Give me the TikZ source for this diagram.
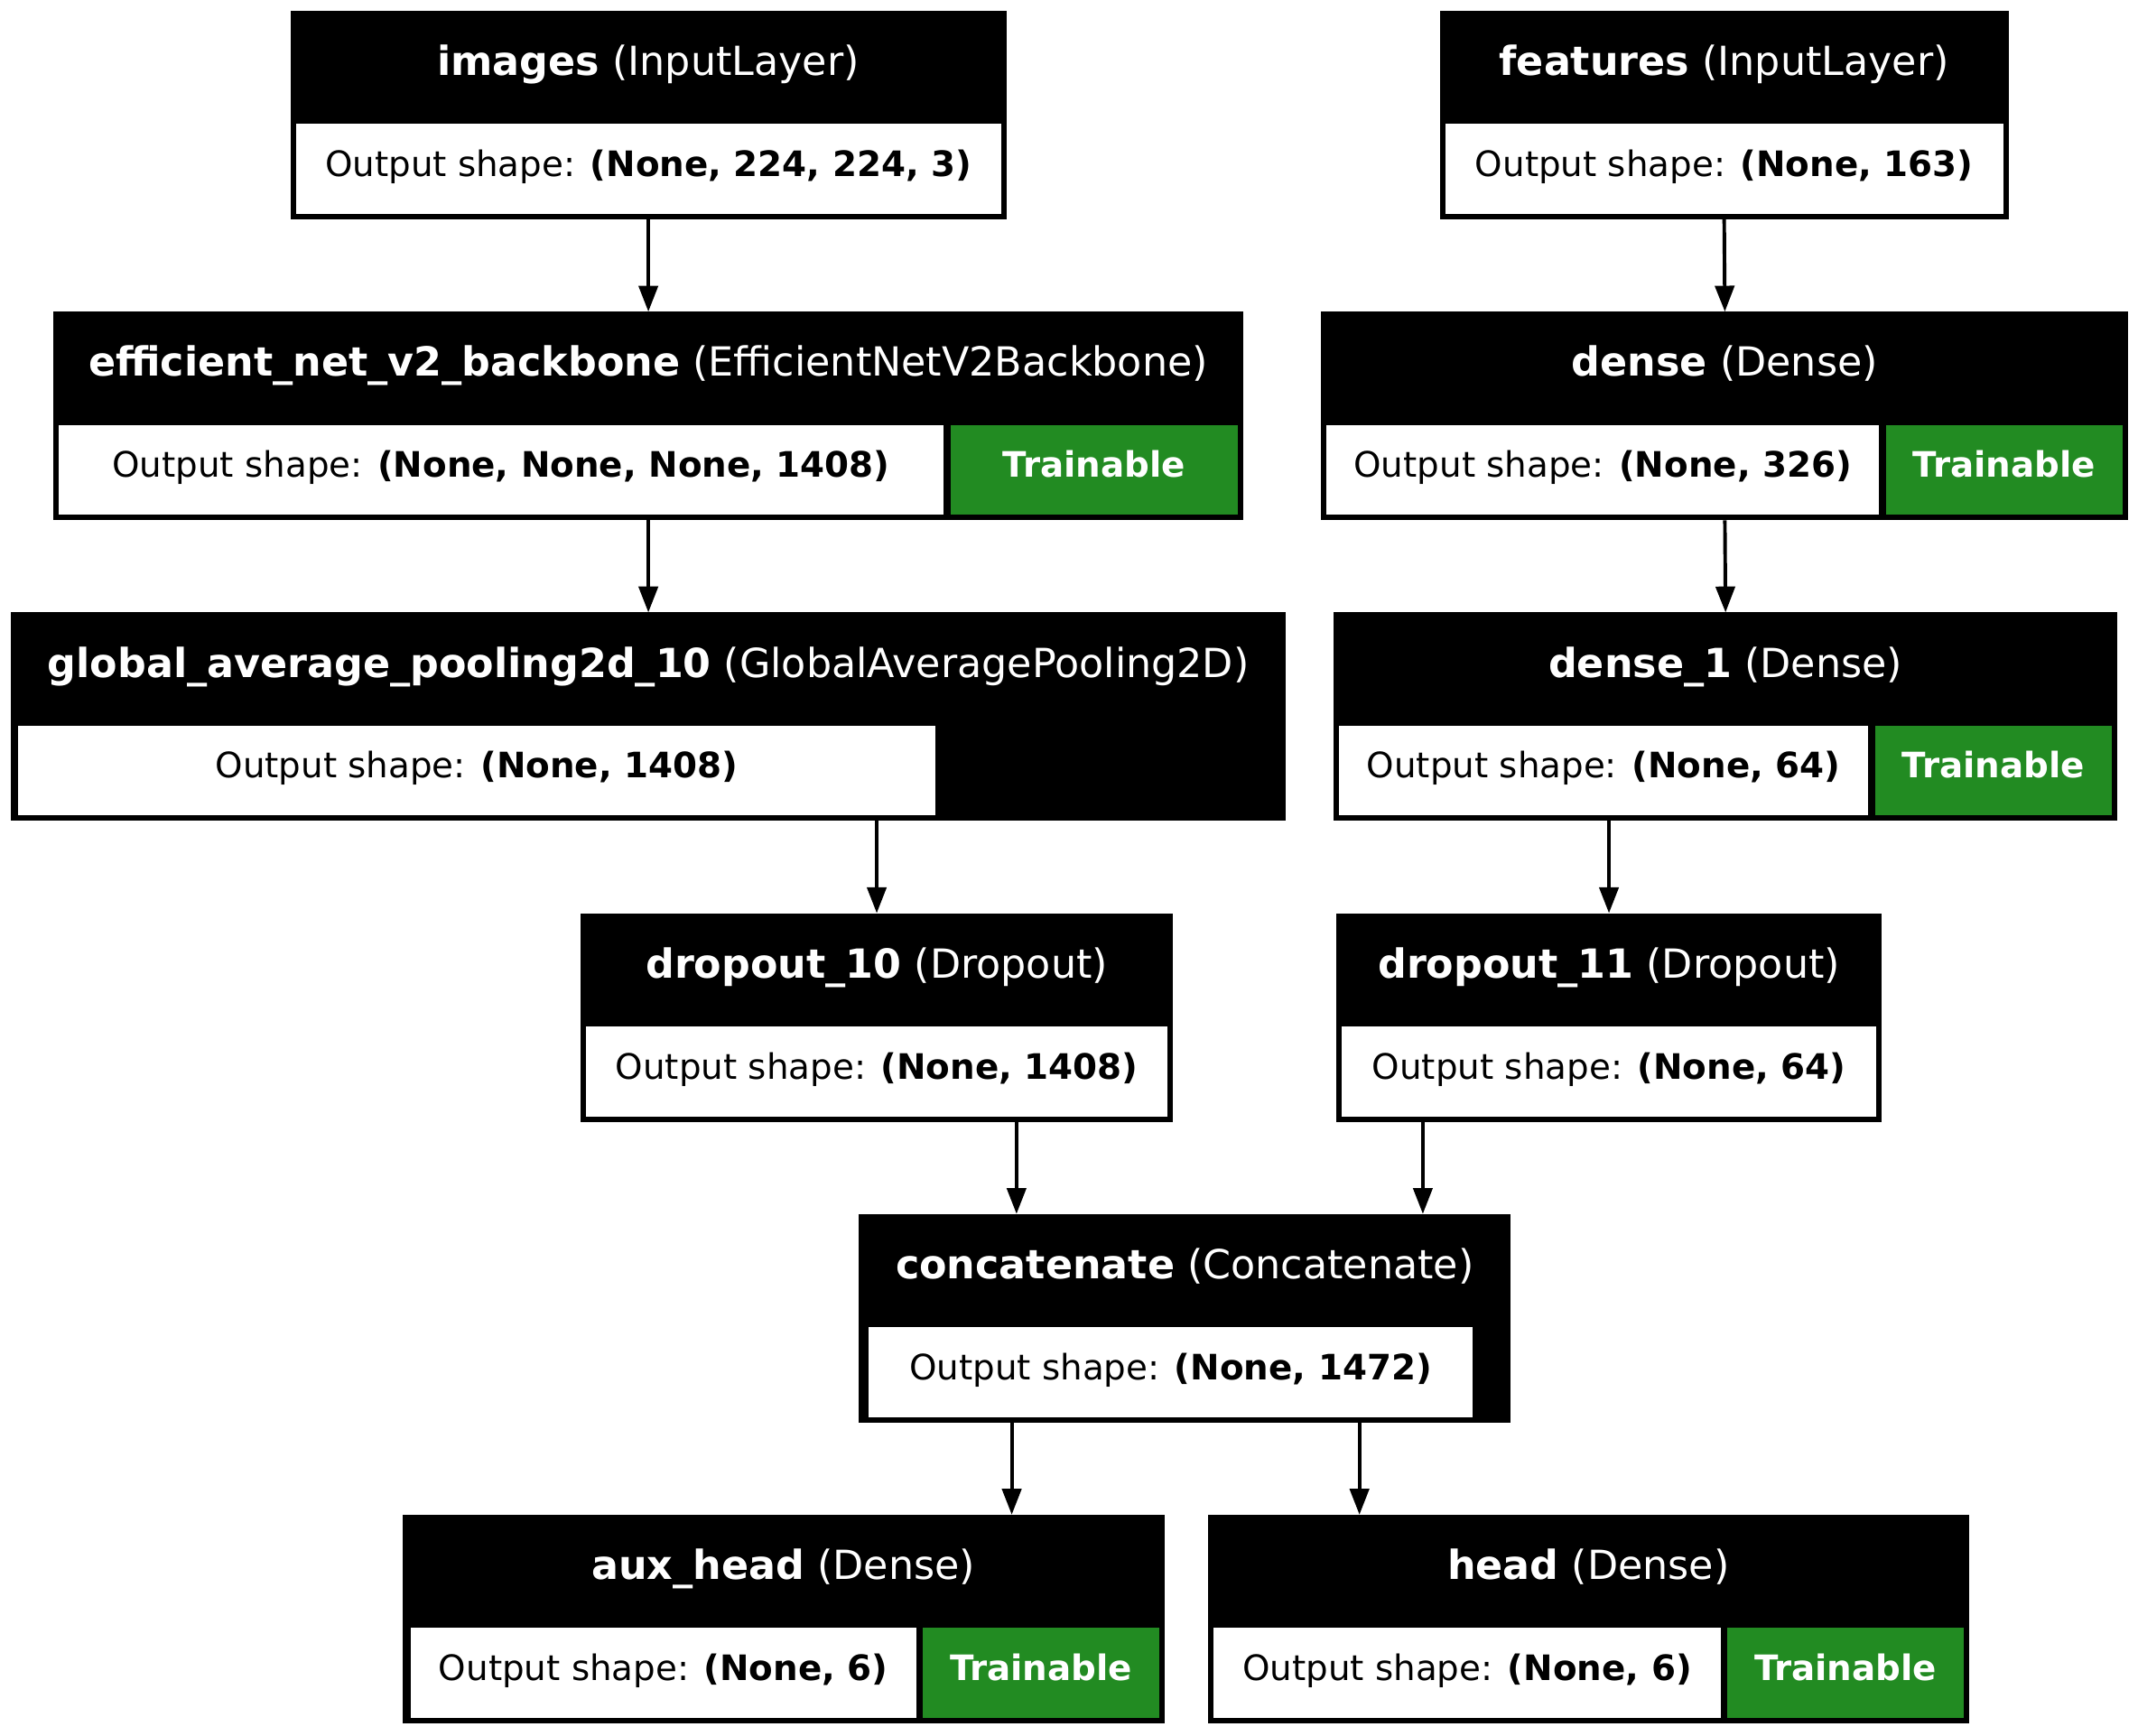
\documentclass[tikz,border=0pt]{standalone}
\usepackage{fontspec}
\setmainfont{DejaVu Sans}
\usetikzlibrary{arrows.meta}
\definecolor{trgreen}{HTML}{228B22}
\tikzset{
  outerbox/.style={fill=black, draw=none, inner sep=0pt, outer sep=0pt, rectangle},
  cellbox/.style={fill=white, draw=none, inner sep=0pt, outer sep=0pt, rectangle},
  greenbox/.style={fill=trgreen, draw=none, inner sep=0pt, outer sep=0pt, rectangle},
  ttl/.style={text=white, inner sep=0pt, font=\fontsize{14.7}{17}\selectfont, anchor=base},
  otxt/.style={text=black, inner sep=0pt, font=\fontsize{12.85}{15}\selectfont, anchor=base},
  gtxt/.style={text=white, inner sep=0pt, font=\fontsize{12.85}{15}\selectfont\bfseries, anchor=base},
  arr/.style={line width=1.3pt, -{Triangle[length=9.5pt,width=7pt]}}
}
% #1 name, #2 x1, #3 x2, #4 top, #5 bold name, #6 type
\newcommand\lyr[6]{%
  \node[outerbox, minimum width={(#3-#2)*0.5pt}, minimum height={153*0.5pt}] (#1) at ({(#2+#3)/2},{#4+76.5}) {};
  \node[ttl] (#1-t) at ({(#2+#3)/2},{#4+47.5}) {\textbf{#5} (#6)};
}
% #1 name, #2 x1, #3 x2, #4 top, #5 shape
\newcommand\outc[5]{%
  \node[cellbox, minimum width={(#3-#2)*0.5pt}, minimum height={66*0.5pt}] (#1-o) at ({(#2+#3)/2},{#4+116}) {};
  \node[otxt] (#1-ot) at ({(#2+#3)/2},{#4+121.5}) {Output shape: \textbf{#5}};
}
% #1 name, #2 x1, #3 x2, #4 top
\newcommand\trc[4]{%
  \node[greenbox, minimum width={(#3-#2)*0.5pt}, minimum height={66*0.5pt}] (#1-g) at ({(#2+#3)/2},{#4+116}) {};
  \node[gtxt] (#1-gt) at ({(#2+#3)/2},{#4+121.5}) {Trainable};
}
\begin{document}
\begin{tikzpicture}[x=0.5pt,y=-0.5pt]
\useasboundingbox[fill=white] (0,0) rectangle (1568,1273);
% row 1
\lyr{images}{213}{738}{8}{images}{InputLayer}
\outc{images}{217}{734}{8}{(None, 224, 224, 3)}
\lyr{features}{1056}{1473}{8}{features}{InputLayer}
\outc{features}{1060}{1469}{8}{(None, 163)}
% row 2
\lyr{backbone}{39}{912}{228.6}{efficient\_net\_v2\_backbone}{EfficientNetV2Backbone}
\outc{backbone}{43}{692}{228.6}{(None, None, None, 1408)}
\trc{backbone}{697}{908}{228.6}
\lyr{dense}{969}{1561}{228.6}{dense}{Dense}
\outc{dense}{973}{1378}{228.6}{(None, 326)}
\trc{dense}{1383}{1557}{228.6}
% row 3
\lyr{gap}{8}{943}{449.2}{global\_average\_pooling2d\_10}{GlobalAveragePooling2D}
\outc{gap}{13}{686}{449.2}{(None, 1408)}
\lyr{denseone}{978}{1553}{449.2}{dense\_1}{Dense}
\outc{denseone}{982}{1370}{449.2}{(None, 64)}
\trc{denseone}{1375}{1549}{449.2}
% row 4
\lyr{dten}{426}{860}{669.8}{dropout\_10}{Dropout}
\outc{dten}{430}{856}{669.8}{(None, 1408)}
\lyr{deleven}{980}{1380}{669.8}{dropout\_11}{Dropout}
\outc{deleven}{984}{1376}{669.8}{(None, 64)}
% row 5
\lyr{concat}{630}{1108}{890.4}{concatenate}{Concatenate}
\outc{concat}{637}{1080}{890.4}{(None, 1472)}
% row 6
\lyr{aux}{295}{854}{1111}{aux\_head}{Dense}
\outc{aux}{301}{672}{1111}{(None, 6)}
\trc{aux}{677}{850}{1111}
\lyr{head}{886}{1444}{1111}{head}{Dense}
\outc{head}{890}{1262}{1111}{(None, 6)}
\trc{head}{1267}{1440}{1111}
% connector x positions
\coordinate (xa) at (745.5,0);
\coordinate (xb) at (1043.5,0);
\coordinate (xc) at (742,0);
\coordinate (xd) at (997,0);
% connectors
\draw[arr] (images.south) -- (backbone.north);
\draw[arr] (features.south) -- (dense.north);
\draw[arr] (backbone.south) -- (gap.north);
\draw[arr] (dense.south) -- (denseone.north);
\draw[arr] (gap.south -| dten.north) -- (dten.north);
\draw[arr] (denseone.south -| deleven.north) -- (deleven.north);
\draw[arr] (dten.south -| xa) -- (concat.north -| xa);
\draw[arr] (deleven.south -| xb) -- (concat.north -| xb);
\draw[arr] (concat.south -| xc) -- (aux.north -| xc);
\draw[arr] (concat.south -| xd) -- (head.north -| xd);
\end{tikzpicture}
\end{document}
